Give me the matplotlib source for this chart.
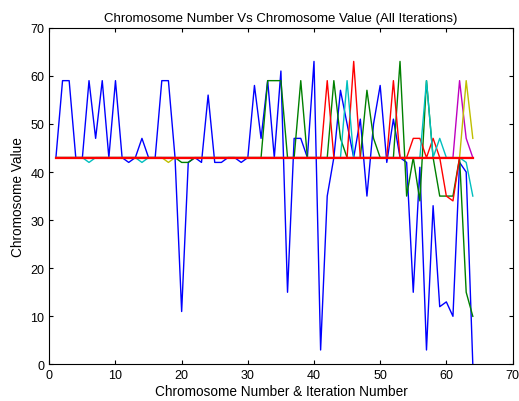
import matplotlib
matplotlib.use("Agg")
import matplotlib.pyplot as plt
import numpy as np

plt.rcParams['font.family'] = ['Liberation Sans', 'DejaVu Sans']

# chromosome number 1..64
chromosome = np.arange(1, 65)

# chromosome values per iteration
iter_blue = [43, 59, 59, 43, 43, 59, 47, 59, 43, 59, 43, 42, 43, 47, 43, 43,
             59, 59, 43, 11, 42, 43, 42, 56, 42, 42, 43, 43, 42, 43, 58, 47,
             59, 43, 61, 15, 47, 47, 43, 63, 3, 35, 43, 57, 50, 43, 51, 35,
             50, 58, 42, 51, 43, 42, 15, 41, 3, 33, 12, 13, 10, 42, 40, 0]
iter_green = [43, 43, 43, 43, 43, 43, 43, 43, 43, 43, 43, 43, 43, 43, 43, 43,
              43, 43, 43, 42, 42, 43, 43, 43, 43, 43, 43, 43, 43, 43, 43, 43,
              59, 59, 59, 43, 43, 59, 43, 43, 43, 43, 59, 47, 43, 43, 43, 57,
              47, 43, 43, 43, 63, 35, 43, 34, 59, 43, 35, 35, 35, 43, 15, 10]
iter_red = [43, 43, 43, 43, 43, 43, 43, 43, 43, 43, 43, 43, 43, 43, 43, 43,
            43, 43, 43, 43, 43, 43, 43, 43, 43, 43, 43, 43, 43, 43, 43, 43,
            43, 43, 43, 43, 43, 43, 43, 43, 43, 59, 43, 43, 43, 63, 43, 43,
            43, 43, 43, 59, 43, 43, 47, 47, 43, 47, 43, 35, 34, 43, 43, 43]
iter_cyan = [43, 43, 43, 43, 43, 42, 43, 43, 43, 43, 43, 43, 43, 42, 43, 43,
             43, 43, 43, 43, 43, 43, 43, 43, 43, 43, 43, 43, 43, 43, 43, 43,
             43, 43, 43, 43, 43, 43, 43, 43, 43, 43, 43, 43, 59, 43, 43, 43,
             43, 43, 43, 43, 43, 43, 43, 43, 59, 43, 47, 43, 43, 43, 42, 35]
iter_magenta = [43, 43, 43, 43, 43, 43, 43, 43, 43, 43, 43, 43, 43, 43, 43, 43,
                43, 43, 43, 43, 43, 43, 43, 43, 43, 43, 43, 43, 43, 43, 43, 43,
                43, 43, 43, 43, 43, 43, 43, 43, 43, 43, 43, 43, 43, 43, 43, 43,
                43, 43, 43, 43, 43, 43, 43, 43, 43, 43, 43, 43, 43, 59, 47, 43]
iter_yellow = [43, 43, 43, 43, 43, 43, 43, 43, 43, 43, 43, 43, 43, 43, 43, 43,
               43, 42, 43, 43, 43, 43, 43, 43, 43, 43, 43, 43, 43, 43, 43, 43,
               43, 43, 43, 43, 43, 43, 43, 43, 43, 43, 43, 43, 43, 43, 43, 43,
               43, 43, 43, 43, 43, 43, 43, 43, 43, 43, 43, 43, 43, 43, 59, 47]
# last iteration: every chromosome converged
iter_final = [43] * 64

series = [
    (iter_blue, (0, 0, 1)),
    (iter_green, (0, 0.5, 0)),
    (iter_red, (1, 0, 0)),
    (iter_cyan, (0, 0.75, 0.75)),
    (iter_magenta, (0.75, 0, 0.75)),
    (iter_yellow, (0.75, 0.75, 0)),
]

fig = plt.figure(figsize=(5.19, 4.02), dpi=100)
ax = fig.add_axes([0.095, 0.091, 0.8925, 0.8375])

for vals, col in series:
    ax.plot(chromosome, vals, color=col, linewidth=1.0)
ax.plot(chromosome, iter_final, color=(1, 0, 0), linewidth=1.6)

ax.set_xlim(0, 70)
ax.set_ylim(0, 70)
ax.set_xticks(np.arange(0, 71, 10))
ax.set_yticks(np.arange(0, 71, 10))
ax.tick_params(direction='in', top=True, right=True, length=3, labelsize=9)
for s in ax.spines.values():
    s.set_linewidth(0.8)

ax.set_title('Chromosome Number Vs Chromosome Value (All Iterations)', fontsize=9.5, pad=5)
ax.set_xlabel('Chromosome Number & Iteration Number', fontsize=9.8, labelpad=2)
ax.set_ylabel('Chromosome Value', fontsize=9.8, labelpad=4)

fig.savefig('out.png', dpi=100)
